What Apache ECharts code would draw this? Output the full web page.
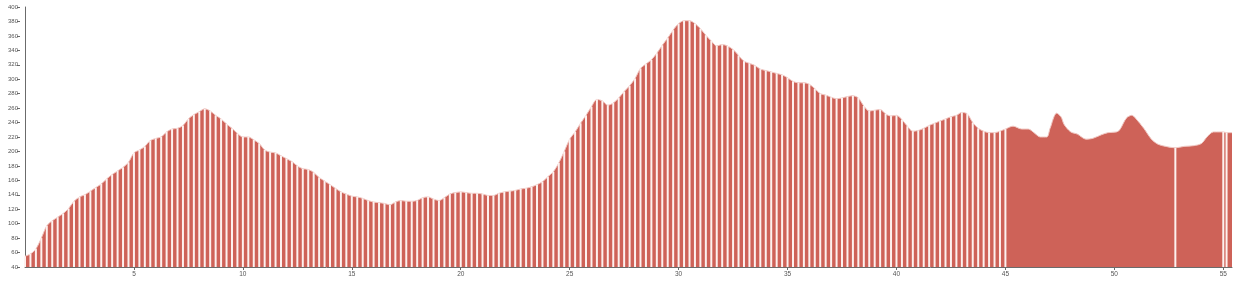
<!DOCTYPE html>
<html>
<head>
<meta charset="utf-8">
<script src="https://cdn.jsdelivr.net/npm/echarts@6/dist/echarts.min.js"></script>
<style>
html,body{margin:0;padding:0;background:#fff;}
#chart{width:1237px;height:284px;}
</style>
</head>
<body>
<div id="chart"></div>
<script>
// Distance along route (km)
const distKm = [
  0,0.25,0.5,0.75,1,1.25,1.5,1.75,2,2.25,2.5,2.75,3,3.25,3.5,3.75,4,4.25,4.5,4.75,
  5,5.25,5.5,5.75,6,6.25,6.5,6.75,7,7.25,7.5,7.75,8,8.25,8.5,8.75,9,9.25,9.5,9.75,
  10,10.25,10.5,10.75,11,11.25,11.5,11.75,12,12.25,12.5,12.75,13,13.25,13.5,13.75,14,14.25,14.5,14.75,
  15,15.25,15.5,15.75,16,16.25,16.5,16.75,17,17.25,17.5,17.75,18,18.25,18.5,18.75,19,19.25,19.5,19.75,
  20,20.25,20.5,20.75,21,21.25,21.5,21.75,22,22.25,22.5,22.75,23,23.25,23.5,23.75,24,24.25,24.5,24.75,
  25,25.25,25.5,25.75,26,26.25,26.5,26.75,27,27.25,27.5,27.75,28,28.25,28.5,28.75,29,29.25,29.5,29.75,
  30,30.25,30.5,30.75,31,31.25,31.5,31.75,32,32.25,32.5,32.75,33,33.25,33.5,33.75,34,34.25,34.5,34.75,
  35,35.25,35.5,35.75,36,36.25,36.5,36.75,37,37.25,37.5,37.75,38,38.25,38.5,38.75,39,39.25,39.5,39.75,
  40,40.25,40.5,40.75,41,41.25,41.5,41.75,42,42.25,42.5,42.75,43,43.25,43.5,43.75,44,44.25,44.5,44.75,
  45,45.35,45.75,46.05,46.35,46.6,46.9,47.05,47.35,47.55,47.7,48,48.3,48.7,49,49.4,49.7,50.1,50.25,
  50.55,50.8,51,51.35,51.7,52,52.35,52.8,53.2,53.65,54,54.25,54.55,54.85,55,55.15,55.4
];
// Elevation (m)
const elevM = [
  55,58,65,80,97,104,109,114,121,131,137,140,145,150,155,162,168,173,178,185,
  198,202,207,215,218,220,227,231,232,236,245,251,255,259,256,250,245,238,232,225,
  220,220,216,211,202,199,198,194,190,186,180,176,175,171,164,159,154,149,144,141,
  138,137,135,132,130,129,128,126,130,132,131,131,132,136,137,134,132,136,141,143,
  144,143,142,142,141,139,139,142,144,145,146,148,149,151,154,158,165,172,184,200,
  217,227,239,250,262,272,270,264,267,274,283,291,301,315,321,327,336,347,357,368,
  377,381,381,377,370,361,353,346,348,346,341,333,325,322,319,314,312,310,308,306,
  302,297,295,295,293,287,280,278,275,273,274,276,277,274,263,256,257,258,252,249,
  250,244,235,228,229,232,236,239,242,245,248,250,254,252,240,232,228,226,226,228,
  231,235,231,231,225,220,220,232,253,248,237,227,224,217,218,223,226,227,230,
  246,250,245,232,217,210,207,205,207,208,211,220,227,227,227,226,226
];
// Positions (km) where the profile shows white separator lines
const extraStripeKm = [52.8, 55, 55.15];
const stripedUntilKm = 45;

// Axis ticks
const xTickLabels = [5,10,15,20,25,30,35,40,45,50,55];
const yMin = 40, yMax = 400, yStep = 20;
const xMin = 0, xMax = 55.4;

const profile = distKm.map((d, i) => [d, elevM[i]]);
const stripeKm = distKm.filter(d => d <= stripedUntilKm).concat(extraStripeKm);
const stripes = stripeKm.map(k => [k, elevM[distKm.indexOf(k)]]);

const RED = '#ce6258';
const axisColor = '#6b6b6b';
const labelColor = '#555';
const font = '"Liberation Sans", Arial, sans-serif';

const chart = echarts.init(document.getElementById('chart'), null, {renderer: 'canvas'});
chart.setOption({
  animation: false,
  backgroundColor: '#ffffff',
  grid: {left: 25, right: 5, top: 7, bottom: 17, containLabel: false},
  xAxis: {
    type: 'value', min: xMin, max: xMax,
    axisLine: {show: true, lineStyle: {color: axisColor, width: 1}},
    axisTick: {show: true, length: 3, customValues: xTickLabels, lineStyle: {color: axisColor}},
    axisLabel: {customValues: xTickLabels, color: labelColor, fontSize: 6.5, fontFamily: font, margin: 4},
    splitLine: {show: false}
  },
  yAxis: [{
    type: 'value', min: yMin, max: yMax, interval: yStep,
    axisLine: {show: true, lineStyle: {color: axisColor, width: 1}},
    axisTick: {show: false},
    axisLabel: {show: false},
    splitLine: {show: false}
  }, {
    type: 'value', min: yMin, max: yMax, interval: yStep, position: 'left', offset: 5,
    axisLine: {show: false},
    axisTick: {show: true, length: 3, lineStyle: {color: axisColor}},
    axisLabel: {color: labelColor, fontSize: 6, fontFamily: font, margin: 2},
    splitLine: {show: false}
  }],
  series: [{
    type: 'line',
    data: profile,
    smooth: 0.3,
    symbol: 'none',
    lineStyle: {color: '#f0c7c2', width: 1},
    areaStyle: {color: RED, opacity: 1, origin: 'start'},
    z: 2
  }, {
    type: 'bar',
    data: stripes,
    barWidth: 2,
    itemStyle: {color: '#fdf1ef'},
    z: 3
  }]
});
</script>
</body>
</html>
